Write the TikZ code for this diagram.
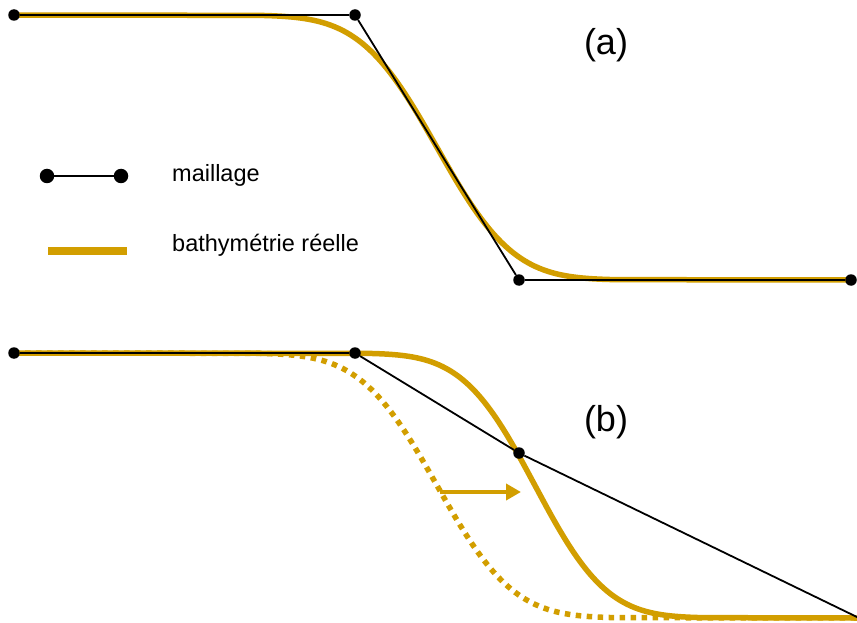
\documentclass[tikz,border=0pt]{standalone}
\usepackage{fontspec}
\setmainfont{Liberation Sans}
\usetikzlibrary{arrows.meta}
\definecolor{gold}{RGB}{210,158,0}
\tikzset{
  meshpt/.style={circle,fill=black,inner sep=0pt,minimum size=11.5pt},
  legpt/.style={circle,fill=black,inner sep=0pt,minimum size=14.5pt},
  meshline/.style={draw=black,line width=1.8pt},
  bathy/.style={draw=gold,line width=5.5pt},
  bathydot/.style={draw=gold,line width=5.5pt,dash pattern=on 5.5pt off 5.5pt},
  shiftarrow/.style={draw=gold,line width=4.8pt,-{Triangle[length=15pt,width=16pt]}},
  lbl/.style={font=\fontsize{36}{40}\selectfont,inner sep=0pt},
  legtxt/.style={font=\fontsize{23.5}{26}\selectfont,inner sep=0pt,anchor=base west}
}
\begin{document}
\begin{tikzpicture}[x={(1pt,0)},y={(0,-1pt)}]
\useasboundingbox (0,0) rectangle (857,623);
\clip (0,0) rectangle (857,623);

% ---------- panel (a) ----------
\draw[bathy] (14,15) -- plot[domain=-2.1:2.1,samples=90,variable=\u,smooth]
  ({437+85*\u},{147.5+132.5*tanh(1.1284*\u+0.1009*\u*\u*\u)}) -- (851,280);
\node[meshpt] (a1) at (14,15) {};
\node[meshpt] (a2) at (355,15) {};
\node[meshpt] (a3) at (519,280) {};
\node[meshpt] (a4) at (851,280) {};
\draw[meshline] (a1) -- (a2) -- (a3) -- (a4);
\node[lbl] (la) at (606,45) {(a)};

% legend
\node[legpt] (l1) at (47,176) {};
\node[legpt] (l2) at (121,176) {};
\draw[meshline] (l1) -- (l2);
\node[legtxt] (t1) at (172,181.7) {maillage};
\coordinate (g1) at (48,251.3);
\coordinate (g2) at (127,251.3);
\draw[draw=gold,line width=8pt] (g1) -- (g2);
\node[legtxt] (t2) at (172,251.7) {bathymétrie réelle};

% ---------- panel (b) ----------
\draw[bathydot] (14,353) -- plot[domain=-2.1:2.1,samples=90,variable=\u,smooth]
  ({437+85*\u},{485.5+132.5*tanh(1.1284*\u+0.1009*\u*\u*\u)}) -- (857,618);
\draw[bathy] (14,353) -- plot[domain=-2.1:2.1,samples=90,variable=\u,smooth]
  ({535+80*\u},{485.5+132.5*tanh(1.1284*\u+0.1009*\u*\u*\u)}) -- (857,618);
\coordinate (s1) at (440,492);
\coordinate (s2) at (521,492);
\draw[shiftarrow] (s1) -- (s2);
\node[meshpt] (b1) at (14,353) {};
\node[meshpt] (b2) at (355,353) {};
\node[meshpt] (b3) at (519,453) {};
\coordinate (b4) at (858,617.5);
\draw[meshline] (b1) -- (b2) -- (b3) -- (b4);
\node[lbl] (lb) at (606,422) {(b)};
\end{tikzpicture}
\end{document}
